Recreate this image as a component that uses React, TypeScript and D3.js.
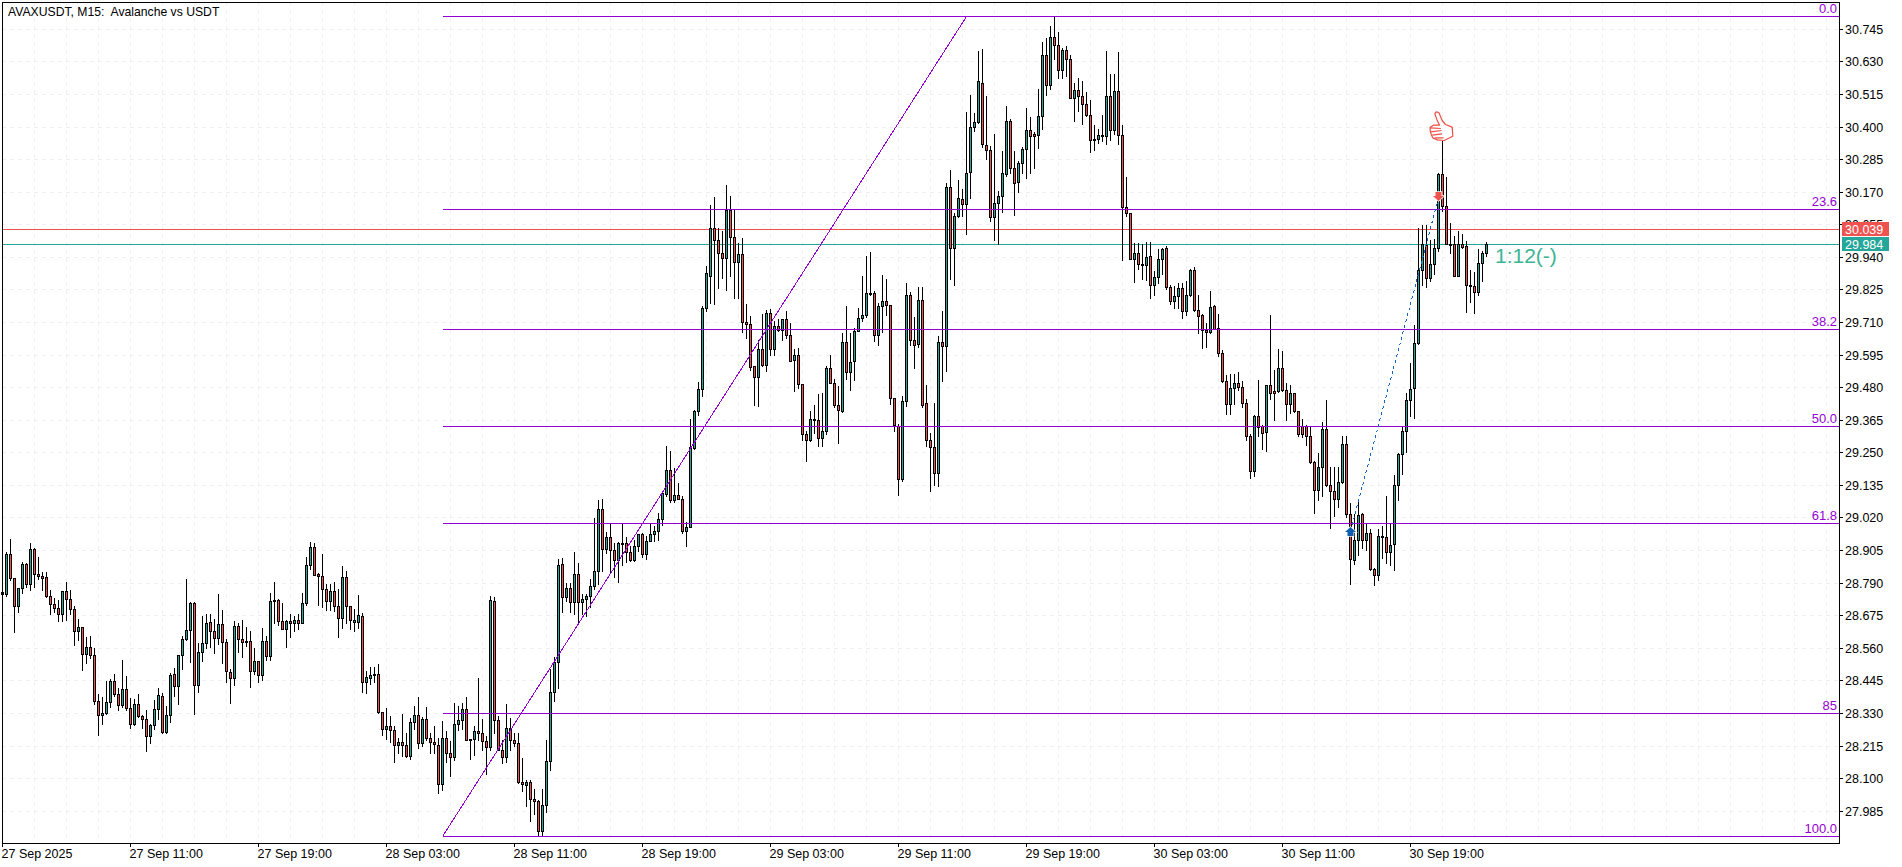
import { useRef, useEffect } from "react";
import * as d3 from "d3";

const opens = [
  28.751,28.751,28.892,28.806,28.707,28.771,28.857,28.785,28.910,28.822,
  28.814,28.811,28.744,28.716,28.702,28.680,28.762,28.733,28.698,28.620,
  28.634,28.538,28.564,28.536,28.372,28.324,28.331,28.370,28.444,28.397,
  28.358,28.416,28.349,28.291,28.363,28.319,28.310,28.249,28.288,28.345,
  28.391,28.264,28.324,28.469,28.425,28.536,28.592,28.623,28.719,28.429,
  28.546,28.578,28.652,28.619,28.594,28.645,28.581,28.476,28.454,28.638,
  28.591,28.584,28.584,28.479,28.514,28.465,28.585,28.531,28.730,28.730,
  28.656,28.627,28.656,28.647,28.659,28.647,28.719,28.853,28.917,28.820,
  28.814,28.767,28.725,28.762,28.709,28.666,28.811,28.709,28.652,28.652,
  28.673,28.439,28.453,28.465,28.469,28.334,28.273,28.285,28.270,28.216,
  28.228,28.218,28.178,28.299,28.323,28.223,28.309,28.241,28.228,28.218,
  28.080,28.241,28.189,28.174,28.292,28.306,28.345,28.239,28.238,28.267,
  28.260,28.232,28.209,28.726,28.305,28.201,28.174,28.278,28.235,28.225,
  28.086,28.075,28.087,28.026,28.020,27.913,28.006,28.161,28.403,28.510,
  28.856,28.739,28.772,28.722,28.821,28.722,28.733,28.743,28.779,28.831,
  29.051,28.908,28.952,28.906,28.869,28.926,28.929,28.899,28.869,28.920,
  28.962,28.892,28.938,28.962,28.973,29.015,29.102,29.188,29.082,29.100,
  29.085,28.971,28.987,29.266,29.397,29.473,29.760,29.874,30.041,30.000,
  29.954,29.936,30.106,30.009,29.922,29.950,29.710,29.703,29.553,29.516,
  29.615,29.557,29.741,29.614,29.696,29.682,29.721,29.664,29.575,29.594,
  29.491,29.315,29.294,29.368,29.364,29.301,29.326,29.548,29.495,29.417,
  29.395,29.640,29.534,29.573,29.679,29.723,29.735,29.813,29.813,29.663,
  29.767,29.784,29.770,29.442,29.344,29.155,29.431,29.806,29.646,29.631,
  29.788,29.424,29.293,29.269,29.176,29.640,29.624,30.187,29.972,30.084,
  30.145,30.127,30.239,30.400,30.415,30.554,30.335,30.318,30.081,30.131,
  30.155,30.232,30.418,30.254,30.204,30.272,30.321,30.388,30.372,30.371,
  30.438,30.653,30.546,30.717,30.688,30.600,30.671,30.639,30.501,30.530,
  30.508,30.480,30.441,30.355,30.355,30.371,30.367,30.508,30.388,30.526,
  30.371,30.117,30.095,29.933,29.954,29.914,29.912,29.944,29.839,29.869,
  29.933,29.970,29.834,29.785,29.801,29.831,29.748,29.806,29.894,29.753,
  29.733,29.681,29.674,29.767,29.688,29.601,29.502,29.421,29.478,29.495,
  29.481,29.425,29.309,29.184,29.378,29.342,29.322,29.488,29.466,29.466,
  29.548,29.471,29.421,29.458,29.397,29.342,29.342,29.308,29.217,29.118,
  29.199,29.331,29.134,29.112,29.086,29.146,29.280,29.033,28.869,28.941,
  29.031,28.940,28.964,28.839,28.816,28.956,28.952,28.899,28.926,29.135,
  29.245,29.326,29.435,29.477,29.635,29.893,29.982,29.866,29.915,29.972,
  30.231,30.121,29.987,29.986,29.873,29.986,29.977,29.841,29.838,29.815,29.919,29.954,
];

const highs = [
  28.759,28.898,28.943,28.806,28.771,28.864,28.860,28.931,28.912,28.882,
  28.827,28.826,28.763,28.737,28.727,28.762,28.793,28.765,28.709,28.660,
  28.634,28.597,28.603,28.558,28.396,28.386,28.444,28.449,28.466,28.417,
  28.516,28.460,28.384,28.378,28.396,28.323,28.341,28.291,28.377,28.419,
  28.399,28.354,28.472,28.489,28.536,28.601,28.804,28.721,28.721,28.578,
  28.674,28.681,28.681,28.660,28.751,28.692,28.590,28.486,28.653,28.649,
  28.657,28.634,28.619,28.561,28.514,28.629,28.601,28.754,28.793,28.733,
  28.719,28.658,28.681,28.674,28.678,28.752,28.882,28.934,28.930,28.825,
  28.890,28.786,28.786,28.792,28.769,28.850,28.832,28.709,28.698,28.745,
  28.684,28.478,28.494,28.493,28.504,28.334,28.348,28.320,28.283,28.242,
  28.328,28.261,28.311,28.356,28.387,28.316,28.352,28.260,28.285,28.242,
  28.300,28.267,28.232,28.366,28.355,28.366,28.387,28.239,28.283,28.455,
  28.309,28.248,28.743,28.741,28.319,28.236,28.363,28.313,28.260,28.260,
  28.172,28.093,28.095,28.062,28.022,28.060,28.234,28.486,28.528,28.872,
  28.878,28.787,28.787,28.899,28.858,28.751,28.751,28.803,29.019,29.080,
  29.087,28.969,29.000,28.931,28.934,29.000,28.952,28.919,28.939,28.962,
  28.966,28.954,29.000,28.989,29.036,29.109,29.274,29.256,29.196,29.140,
  29.097,29.005,29.368,29.401,29.500,29.765,29.906,30.124,30.152,30.041,
  30.033,30.192,30.156,30.104,29.989,30.007,29.774,29.730,29.554,29.648,
  29.740,29.754,29.756,29.713,29.722,29.722,29.749,29.707,29.616,29.618,
  29.491,29.324,29.397,29.418,29.457,29.460,29.554,29.595,29.509,29.483,
  29.671,29.768,29.671,29.689,29.760,29.874,29.944,29.957,29.820,29.777,
  29.877,29.863,29.771,29.442,29.351,29.448,29.848,29.815,29.727,29.834,
  29.835,29.489,29.318,29.424,29.660,29.750,30.199,30.245,30.095,30.213,
  30.178,30.452,30.510,30.448,30.666,30.672,30.507,30.331,30.374,30.172,
  30.315,30.474,30.425,30.313,30.280,30.328,30.464,30.432,30.380,30.533,
  30.698,30.712,30.754,30.790,30.734,30.678,30.686,30.651,30.554,30.572,
  30.560,30.521,30.495,30.404,30.390,30.439,30.666,30.587,30.587,30.664,
  30.404,30.222,30.095,29.990,29.990,29.984,29.993,29.993,29.889,29.968,
  29.972,29.978,29.842,29.837,29.848,29.848,29.854,29.898,29.904,29.804,
  29.737,29.707,29.821,29.769,29.737,29.611,29.522,29.528,29.528,29.535,
  29.501,29.437,29.313,29.382,29.507,29.347,29.489,29.733,29.539,29.615,
  29.609,29.495,29.486,29.460,29.397,29.369,29.348,29.342,29.219,29.249,
  29.356,29.433,29.198,29.199,29.199,29.309,29.307,29.072,29.031,29.078,
  29.036,29.001,28.978,28.842,28.981,28.989,29.095,29.001,29.169,29.248,
  29.342,29.459,29.566,29.698,30.042,30.054,30.054,30.001,30.004,30.237,
  30.348,30.222,30.058,30.013,30.033,30.022,29.995,29.895,29.888,29.969,29.959,29.991,
];

const lows = [
  28.749,28.743,28.799,28.616,28.686,28.752,28.774,28.764,28.774,28.804,
  28.764,28.740,28.679,28.686,28.654,28.654,28.658,28.679,28.570,28.587,
  28.481,28.505,28.525,28.361,28.252,28.290,28.326,28.351,28.390,28.340,
  28.352,28.341,28.278,28.286,28.314,28.276,28.196,28.223,28.272,28.307,
  28.261,28.258,28.298,28.390,28.361,28.484,28.587,28.510,28.326,28.403,
  28.513,28.560,28.564,28.540,28.574,28.507,28.438,28.364,28.429,28.546,
  28.526,28.566,28.421,28.466,28.439,28.445,28.517,28.517,28.649,28.640,
  28.625,28.563,28.597,28.620,28.627,28.647,28.711,28.837,28.817,28.710,
  28.703,28.694,28.692,28.690,28.597,28.629,28.649,28.625,28.619,28.631,
  28.403,28.400,28.431,28.441,28.331,28.252,28.239,28.227,28.156,28.187,
  28.178,28.175,28.166,28.272,28.206,28.213,28.236,28.187,28.189,28.048,
  28.058,28.156,28.107,28.163,28.269,28.272,28.234,28.166,28.181,28.234,
  28.201,28.116,28.199,28.258,28.199,28.154,28.156,28.201,28.213,28.083,
  28.054,28.001,27.948,27.972,27.898,27.898,27.980,28.128,28.372,28.418,
  28.686,28.725,28.688,28.681,28.648,28.678,28.674,28.705,28.768,28.786,
  28.831,28.893,28.825,28.809,28.792,28.854,28.862,28.867,28.867,28.901,
  28.881,28.873,28.936,28.936,28.939,28.993,29.095,29.074,29.075,29.084,
  28.967,28.921,28.985,29.260,29.382,29.448,29.748,29.777,29.775,29.830,
  29.866,29.822,29.871,29.793,29.795,29.674,29.654,29.542,29.416,29.413,
  29.554,29.536,29.595,29.593,29.679,29.646,29.654,29.571,29.466,29.476,
  29.295,29.218,29.289,29.318,29.274,29.271,29.313,29.493,29.410,29.283,
  29.391,29.510,29.471,29.507,29.679,29.715,29.726,29.806,29.644,29.628,
  29.675,29.734,29.422,29.324,29.101,29.150,29.413,29.628,29.549,29.621,
  29.409,29.274,29.115,29.133,29.130,29.501,29.536,29.862,29.840,30.081,
  30.084,30.019,30.148,30.384,30.413,30.328,30.284,30.066,29.999,29.984,
  30.099,30.225,30.237,30.087,30.168,30.237,30.218,30.237,30.254,30.324,
  30.390,30.511,30.531,30.637,30.570,30.570,30.580,30.500,30.419,30.454,
  30.408,30.437,30.310,30.317,30.342,30.348,30.340,30.354,30.372,30.339,
  29.928,30.084,29.933,29.851,29.898,29.862,29.860,29.795,29.807,29.848,
  29.881,29.825,29.772,29.758,29.760,29.724,29.733,29.801,29.748,29.670,
  29.617,29.621,29.672,29.684,29.589,29.498,29.387,29.387,29.419,29.469,
  29.409,29.293,29.159,29.168,29.307,29.260,29.254,29.437,29.364,29.464,
  29.467,29.364,29.389,29.392,29.307,29.305,29.275,29.213,29.035,29.081,
  29.095,29.131,28.982,29.025,29.056,29.142,29.022,28.785,28.856,28.886,
  28.913,28.907,28.834,28.781,28.801,28.878,28.860,28.854,28.834,29.081,
  29.174,29.251,29.380,29.372,29.631,29.839,29.833,29.854,29.878,29.960,
  30.101,29.984,29.954,29.872,29.872,29.972,29.745,29.780,29.742,29.805,29.854,29.942,
];

const closes = [
  28.757,28.892,28.806,28.707,28.771,28.857,28.785,28.910,28.822,28.814,
  28.807,28.743,28.716,28.702,28.680,28.762,28.733,28.698,28.620,28.634,
  28.538,28.564,28.536,28.372,28.324,28.331,28.370,28.444,28.397,28.358,
  28.416,28.349,28.291,28.363,28.319,28.310,28.249,28.288,28.345,28.394,
  28.264,28.324,28.465,28.425,28.536,28.592,28.623,28.719,28.429,28.546,
  28.578,28.649,28.619,28.594,28.645,28.581,28.479,28.454,28.638,28.591,
  28.580,28.580,28.479,28.514,28.465,28.585,28.531,28.726,28.726,28.656,
  28.627,28.656,28.647,28.659,28.647,28.719,28.853,28.917,28.818,28.814,
  28.767,28.725,28.762,28.709,28.666,28.811,28.709,28.657,28.659,28.677,
  28.439,28.458,28.465,28.469,28.333,28.273,28.285,28.269,28.216,28.228,
  28.216,28.178,28.299,28.323,28.223,28.309,28.241,28.227,28.220,28.080,
  28.241,28.189,28.174,28.292,28.306,28.345,28.236,28.238,28.267,28.260,
  28.232,28.209,28.729,28.305,28.201,28.174,28.278,28.234,28.223,28.086,
  28.079,28.087,28.026,28.019,27.913,28.006,28.161,28.403,28.510,28.853,
  28.739,28.772,28.722,28.821,28.722,28.733,28.743,28.779,28.832,29.051,
  28.909,28.952,28.906,28.869,28.929,28.929,28.899,28.869,28.920,28.961,
  28.892,28.938,28.962,28.973,29.015,29.107,29.188,29.082,29.100,29.086,
  28.971,28.988,29.268,29.396,29.475,29.760,29.883,30.041,30.000,29.954,
  29.936,30.106,30.009,29.922,29.950,29.710,29.702,29.550,29.516,29.615,
  29.557,29.741,29.614,29.696,29.682,29.720,29.664,29.571,29.594,29.491,
  29.315,29.294,29.368,29.363,29.301,29.326,29.549,29.495,29.416,29.400,
  29.640,29.534,29.569,29.679,29.724,29.735,29.813,29.810,29.663,29.767,
  29.784,29.769,29.441,29.346,29.155,29.431,29.806,29.646,29.628,29.788,
  29.418,29.293,29.268,29.176,29.640,29.624,30.187,29.972,30.084,30.148,
  30.127,30.237,30.399,30.417,30.562,30.339,30.318,30.081,30.131,30.155,
  30.237,30.418,30.254,30.200,30.272,30.321,30.388,30.367,30.367,30.438,
  30.653,30.546,30.717,30.687,30.600,30.671,30.639,30.501,30.530,30.507,
  30.480,30.441,30.353,30.353,30.371,30.367,30.508,30.388,30.526,30.371,
  30.117,30.095,29.933,29.954,29.914,29.911,29.940,29.840,29.869,29.933,
  29.968,29.834,29.785,29.802,29.831,29.748,29.806,29.894,29.753,29.731,
  29.681,29.674,29.764,29.687,29.600,29.501,29.421,29.478,29.495,29.480,
  29.424,29.307,29.184,29.379,29.340,29.318,29.488,29.460,29.459,29.548,
  29.469,29.421,29.458,29.397,29.315,29.315,29.307,29.215,29.118,29.199,
  29.331,29.134,29.113,29.086,29.146,29.280,29.032,28.872,28.941,29.029,
  28.940,28.964,28.838,28.816,28.955,28.951,28.899,28.924,29.135,29.245,
  29.326,29.435,29.474,29.637,29.894,29.984,29.866,29.915,29.972,30.231,
  30.121,29.986,29.982,29.873,29.986,29.974,29.841,29.836,29.815,29.919,29.954,29.987,
];

const priceTicks = [
  30.745, 30.63, 30.515, 30.4, 30.285, 30.17, 30.055, 29.94, 29.825, 29.71, 29.595, 29.48, 29.365,
  29.25, 29.135, 29.02, 28.905, 28.79, 28.675, 28.56, 28.445, 28.33, 28.215, 28.1, 27.985,
];

const timeLabels = [
  "27 Sep 2025", "27 Sep 11:00", "27 Sep 19:00", "28 Sep 03:00", "28 Sep 11:00", "28 Sep 19:00",
  "29 Sep 03:00", "29 Sep 11:00", "29 Sep 19:00", "30 Sep 03:00", "30 Sep 11:00", "30 Sep 19:00",
];

// fibo retracement, anchored on two bars
const fiboHigh = 30.791;
const fiboLow = 27.896;
const fiboLevels = [0, 23.6, 38.2, 50, 61.8, 85, 100];
const fiboLabels = ["0.0", "23.6", "38.2", "50.0", "61.8", "85", "100.0"];
const fiboStartBar = 110;
const fiboEndBar = 241;

const askPrice = 30.039;
const bidPrice = 29.984;

// trade from the history: entry bar/price, exit bar/price
const tradeBars = [337, 359];
const tradePrices = [28.974, 30.146];
const thumbBar = 360;

const FONT = '"Liberation Sans", Arial, sans-serif';
const RED = "#ef5350";
const TEAL = "#26a69a";
const PURPLE = "#9400d3";

export default function App() {
  const ref = useRef<SVGSVGElement | null>(null);

  useEffect(() => {
    const svg = d3.select(ref.current);
    svg.selectAll("*").remove();

    const width = 1902;
    const height = 867;
    const left = 2;
    const top = 2;
    const right = 1839;
    const bottom = 843;

    const x = d3
      .scaleLinear()
      .domain([0, (right - left) / 4])
      .range([left, right])
      .interpolate(d3.interpolateRound);

    const y = d3
      .scaleLinear()
      .domain([27.985, 30.745])
      .range([810.7, 28.8])
      .interpolate(d3.interpolateRound);

    svg.append("rect").attr("width", width).attr("height", height).attr("fill", "#fff");

    // grid
    const grid = svg
      .append("g")
      .attr("stroke", "#efefef")
      .attr("stroke-dasharray", "4 4")
      .attr("shape-rendering", "crispEdges");
    grid
      .selectAll("line.v")
      .data(d3.range(8, (right - left) / 4, 8))
      .join("line")
      .attr("class", "v")
      .attr("x1", (d) => x(d) + 0.5)
      .attr("x2", (d) => x(d) + 0.5)
      .attr("y1", top)
      .attr("y2", bottom);
    grid
      .selectAll("line.h")
      .data(priceTicks)
      .join("line")
      .attr("class", "h")
      .attr("x1", left)
      .attr("x2", right)
      .attr("y1", (d) => y(d) + 0.5)
      .attr("y2", (d) => y(d) + 0.5);

    // bid / ask lines
    svg
      .selectAll("line.price")
      .data([
        { v: askPrice, c: RED },
        { v: bidPrice, c: TEAL },
      ])
      .join("line")
      .attr("class", "price")
      .attr("x1", left)
      .attr("x2", right)
      .attr("y1", (d) => y(d.v) + 0.5)
      .attr("y2", (d) => y(d.v) + 0.5)
      .attr("stroke", (d) => d.c)
      .attr("shape-rendering", "crispEdges");

    // candles
    const bars = svg.append("g").attr("shape-rendering", "crispEdges");
    const idx = d3.range(opens.length);
    bars
      .selectAll("line")
      .data(idx)
      .join("line")
      .attr("x1", (i) => x(i) + 0.5)
      .attr("x2", (i) => x(i) + 0.5)
      .attr("y1", (i) => y(highs[i]))
      .attr("y2", (i) => y(lows[i]) + 1)
      .attr("stroke", "#000");
    bars
      .selectAll("rect")
      .data(idx)
      .join("rect")
      .attr("x", (i) => x(i) - 0.5)
      .attr("width", 2)
      .attr("y", (i) => y(Math.max(opens[i], closes[i])) + 0.5)
      .attr("height", (i) => Math.max(y(Math.min(opens[i], closes[i])) - y(Math.max(opens[i], closes[i])), 1))
      .attr("fill", (i) => (closes[i] >= opens[i] ? TEAL : RED))
      .attr("stroke", "#000");

    // fibo
    const fiboPrice = (lvl: number) => fiboHigh - ((fiboHigh - fiboLow) * lvl) / 100;
    const fibo = svg.append("g").attr("shape-rendering", "crispEdges");
    fibo
      .selectAll("line")
      .data(fiboLevels)
      .join("line")
      .attr("x1", x(fiboStartBar) + 0.5)
      .attr("x2", right)
      .attr("y1", (d) => y(fiboPrice(d)) + 0.5)
      .attr("y2", (d) => y(fiboPrice(d)) + 0.5)
      .attr("stroke", PURPLE);
    fibo
      .append("line")
      .attr("x1", x(fiboStartBar) + 0.5)
      .attr("y1", y(fiboLow) + 0.5)
      .attr("x2", x(fiboEndBar) + 0.5)
      .attr("y2", y(fiboHigh) + 0.5)
      .attr("stroke", PURPLE);
    fibo
      .selectAll("text")
      .data(fiboLevels)
      .join("text")
      .attr("x", right - 2)
      .attr("y", (d) => y(fiboPrice(d)) - 3)
      .attr("text-anchor", "end")
      .attr("fill", PURPLE)
      .attr("font-family", FONT)
      .attr("font-size", 13)
      .text((_, i) => fiboLabels[i]);

    // trade line and arrows
    svg
      .append("line")
      .attr("x1", x(tradeBars[0]) + 0.5)
      .attr("y1", y(tradePrices[0]))
      .attr("x2", x(tradeBars[1]) + 0.5)
      .attr("y2", y(tradePrices[1]))
      .attr("stroke", "#1565c0")
      .attr("stroke-dasharray", "3 3")
      .attr("shape-rendering", "crispEdges");
    svg
      .append("path")
      .attr("transform", `translate(${x(tradeBars[0]) + 0.5},${y(tradePrices[0])})`)
      .attr("d", "M0,-4 L5.5,1 L3,1 L3,5 L-3,5 L-3,1 L-5.5,1 Z")
      .attr("fill", "#0f5fb0")
      .attr("stroke", "#fff")
      .attr("stroke-width", 1.5)
      .style("paint-order", "stroke");
    svg
      .append("path")
      .attr("transform", `translate(${x(tradeBars[1]) + 0.5},${y(tradePrices[1])})`)
      .attr("d", "M0,3 L5.5,-2 L3,-2 L3,-6 L-3,-6 L-3,-2 L-5.5,-2 Z")
      .attr("fill", RED)
      .attr("stroke", "#fff")
      .attr("stroke-width", 1.5)
      .style("paint-order", "stroke");

    // thumb up on the spike
    const thumb = svg
      .append("g")
      .attr("transform", `translate(${x(thumbBar) - 12.5},${y(highs[thumbBar]) - 36.5}) scale(0.3333)`)
      .attr("fill", "#fff")
      .attr("stroke", "#ee4f45")
      .attr("stroke-width", 3.6)
      .attr("stroke-linejoin", "round");
    thumb
      .append("path")
      .attr("d", "M16,28 L20,22 L28,24 L38,48 L48,60 L68,68 L70,95 L44,108 L24,106 L10,100 L6,92 L2,80 L2,68 L12,62 L30,62 L22,45 Z");
    thumb
      .append("path")
      .attr("fill", "none")
      .attr("d", "M2,70 L34,72 M4,82 L36,78 M8,92 L38,88 M16,100 L42,100");

    // axes
    const yAxis = d3
      .axisRight(y)
      .tickValues(priceTicks)
      .tickFormat((d) => (d as number).toFixed(3))
      .tickSize(4)
      .tickSizeOuter(0)
      .tickPadding(2);
    const yG = svg.append("g").attr("transform", `translate(${right},0)`).call(yAxis);
    yG.select(".domain").remove();
    const xAxis = d3
      .axisBottom(x)
      .tickValues(timeLabels.map((_, i) => i * 32))
      .tickFormat((_, i) => timeLabels[i])
      .tickSize(4)
      .tickSizeOuter(0)
      .tickPadding(2);
    const xG = svg.append("g").attr("transform", `translate(0,${bottom})`).call(xAxis);
    xG.select(".domain").remove();
    xG.selectAll("text").attr("text-anchor", "start").attr("dx", -1);
    [yG, xG].forEach((g) => {
      g.selectAll("text").attr("font-family", FONT).attr("font-size", 12.5).attr("fill", "#000");
      g.selectAll("line").attr("stroke", "#000").attr("shape-rendering", "crispEdges");
    });

    // frame
    svg
      .append("path")
      .attr("d", `M${left + 0.5},${bottom + 0.5} V${top + 0.5} H${right + 0.5} V${bottom + 0.5} Z`)
      .attr("fill", "none")
      .attr("stroke", "#000")
      .attr("shape-rendering", "crispEdges");

    // bid / ask tags
    const tags = svg
      .selectAll("g.tag")
      .data([
        { v: askPrice, c: RED },
        { v: bidPrice, c: TEAL },
      ])
      .join("g")
      .attr("class", "tag");
    tags
      .append("rect")
      .attr("x", right + 3)
      .attr("y", (d) => y(d.v) - 7)
      .attr("width", 47)
      .attr("height", 14)
      .attr("fill", (d) => d.c);
    tags
      .append("text")
      .attr("x", right + 6)
      .attr("y", (d) => y(d.v) + 0.5)
      .attr("dy", "0.36em")
      .attr("fill", "#fff")
      .attr("font-family", FONT)
      .attr("font-size", 12.5)
      .text((d) => d.v.toFixed(3));

    // title
    svg
      .append("text")
      .attr("x", 8)
      .attr("y", 16)
      .attr("font-family", FONT)
      .attr("font-size", 12.2)
      .attr("fill", "#000")
      .style("white-space", "pre")
      .text("AVAXUSDT, M15:  Avalanche vs USDT");

    // time held label
    svg
      .append("text")
      .attr("x", x(opens.length - 1) + 9)
      .attr("y", y(bidPrice) + 19)
      .attr("font-family", FONT)
      .attr("font-size", 21)
      .attr("fill", "#3cb493")
      .text("1:12(-)");
  }, []);

  return <svg ref={ref} width={1902} height={867} style={{ position: "absolute", left: 0, top: 0 }}></svg>;
}
